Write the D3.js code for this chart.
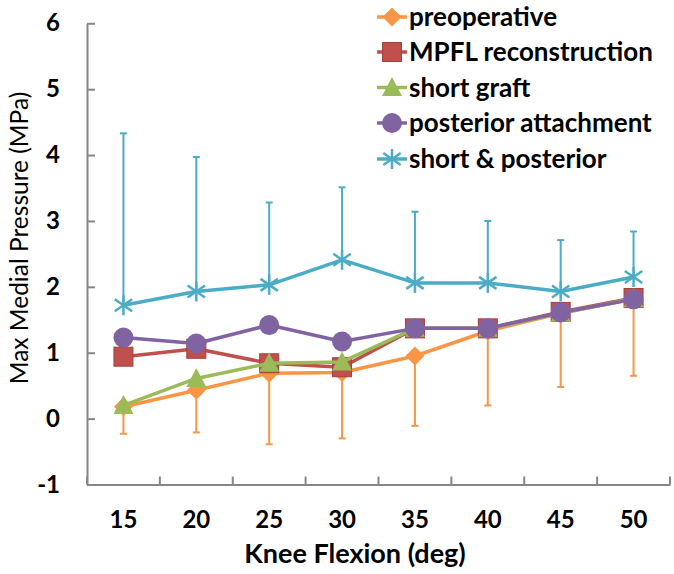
<!DOCTYPE html>
<html><head><meta charset="utf-8">
<script src="https://cdn.jsdelivr.net/npm/d3@7"></script>
<style>body{margin:0;background:#fff}svg{display:block}</style>
</head><body>
<svg id="c" width="674" height="574"></svg>
<script>
const categories = ["15","20","25","30","35","40","45","50"];
const yTickValues = [-1,0,1,2,3,4,5,6];
const yTickLabels = ["-1","0","1","2","3","4","5","6"];
const seriesNames = ["preoperative","MPFL reconstruction","short graft","posterior attachment","short & posterior"];
const preoperative = [0.18,0.43,0.69,0.70,0.95,1.33,1.60,1.82];
const preoperativeLow = [-0.23,-0.21,-0.39,-0.30,-0.11,0.20,0.48,0.65];
const mpfl = [0.94,1.06,0.84,0.78,1.37,1.37,1.62,1.83];
const shortGraft = [0.20,0.61,0.84,0.86,1.37,1.37,1.60,1.82];
const posterior = [1.23,1.14,1.42,1.17,1.37,1.37,1.61,1.81];
const shortPosterior = [1.72,1.93,2.03,2.41,2.06,2.06,1.93,2.15];
const shortPosteriorHigh = [4.33,3.97,3.28,3.51,3.14,3.00,2.71,2.84];
const colors = ["#F79646","#C0504D","#9BBB59","#8064A2","#4BACC6"];
const markers = ["diamond","square","triangle","circle","star"];

const series = [
  {name: seriesNames[0], values: preoperative, low: preoperativeLow},
  {name: seriesNames[1], values: mpfl},
  {name: seriesNames[2], values: shortGraft},
  {name: seriesNames[3], values: posterior},
  {name: seriesNames[4], values: shortPosterior, high: shortPosteriorHigh}
];

const svg = d3.select("#c");
const FONT = "Lato, 'Open Sans', sans-serif";
const x = d3.scaleBand().domain(categories).range([87, 670]).padding(0);
const y = d3.scaleLinear().domain([-1, 6]).range([484.5, 23.3]);
const axisColor = "#868686";

// Y axis
const yAxis = svg.append("g").attr("transform", "translate(87,0)")
  .call(d3.axisLeft(y).tickValues(yTickValues).tickSizeInner(-8).tickSizeOuter(0).tickPadding(27)
    .tickFormat((d, i) => yTickLabels[i]));
yAxis.select(".domain").attr("stroke", axisColor).attr("stroke-width", 2);
yAxis.selectAll(".tick line").attr("stroke", axisColor).attr("stroke-width", 2);
yAxis.selectAll(".tick text").attr("font-family", FONT).attr("font-weight", "bold")
  .attr("font-size", 24).attr("fill", "#000");

// X axis
const y0 = y(-1);
const xAxis = svg.append("g").attr("transform", `translate(0,${y0})`)
  .call(d3.axisBottom(x).tickSize(0).tickPadding(26));
xAxis.select(".domain").attr("stroke", axisColor).attr("stroke-width", 2);
xAxis.selectAll(".tick text").attr("font-family", FONT).attr("font-weight", "bold")
  .attr("font-size", 24).attr("fill", "#000");
const bounds = categories.map(c => x(c)).concat([x.range()[1]]);
xAxis.selectAll("line.bt").data(bounds).enter().append("line").attr("class", "bt")
  .attr("x1", d => d).attr("x2", d => d).attr("y1", 0).attr("y2", -8)
  .attr("stroke", axisColor).attr("stroke-width", 2);

// Axis titles
svg.append("text").attr("x", 355).attr("y", 563)
  .attr("text-anchor", "middle").attr("font-family", FONT).attr("font-weight", "bold")
  .attr("font-size", 27).text("Knee Flexion (deg)");
svg.append("text").attr("transform", "translate(28,238) rotate(-90)")
  .attr("text-anchor", "middle").attr("font-family", FONT)
  .attr("font-size", 24.5).text("Max Medial Pressure (MPa)");

function drawMarker(g, type, color, cx, cy) {
  if (type === "diamond") {
    g.append("path").attr("d", `M${cx},${cy-9.5}L${cx+9.5},${cy}L${cx},${cy+9.5}L${cx-9.5},${cy}Z`).attr("fill", color);
  } else if (type === "square") {
    g.append("rect").attr("x", cx-9.5).attr("y", cy-9.5).attr("width", 19).attr("height", 19)
      .attr("fill", color).attr("stroke", "#A33F3C").attr("stroke-width", 1);
  } else if (type === "triangle") {
    g.append("path").attr("d", `M${cx},${cy-10.5}L${cx+10},${cy+8.5}L${cx-10},${cy+8.5}Z`).attr("fill", color);
  } else if (type === "circle") {
    g.append("circle").attr("cx", cx).attr("cy", cy).attr("r", 10).attr("fill", color);
  } else if (type === "star") {
    const r = 10;
    const p = [[0,-r,0,r],[-r*0.87,-r*0.6,r*0.87,r*0.6],[-r*0.87,r*0.6,r*0.87,-r*0.6]];
    p.forEach(q => g.append("line").attr("x1", cx+q[0]).attr("y1", cy+q[1]).attr("x2", cx+q[2]).attr("y2", cy+q[3])
      .attr("stroke", color).attr("stroke-width", 2.5));
  }
}

const line = d3.line().x((d, i) => x(categories[i]) + x.bandwidth() / 2).y(d => y(d));
const plot = svg.append("g");
series.forEach((s, si) => {
  const g = plot.append("g");
  const col = colors[si];
  const cxs = categories.map(c => x(c) + x.bandwidth() / 2);
  const bars = s.low || s.high;
  if (bars) {
    s.values.forEach((v, i) => {
      g.append("line").attr("x1", cxs[i]).attr("x2", cxs[i]).attr("y1", y(v)).attr("y2", y(bars[i]))
        .attr("stroke", col).attr("stroke-width", 2);
      g.append("line").attr("x1", cxs[i]-3.5).attr("x2", cxs[i]+3.5).attr("y1", y(bars[i])).attr("y2", y(bars[i]))
        .attr("stroke", col).attr("stroke-width", 2);
    });
  }
  g.append("path").attr("d", line(s.values)).attr("fill", "none").attr("stroke", col)
    .attr("stroke-width", 3.5).attr("stroke-linejoin", "round");
  s.values.forEach((v, i) => drawMarker(g, markers[si], col, cxs[i], y(v)));
});

// Legend
const legend = svg.append("g");
const legendRows = [17, 52, 87.5, 123, 159];
series.forEach((s, si) => {
  const ly = legendRows[si];
  const g = legend.append("g");
  g.append("line").attr("x1", 377).attr("x2", 407).attr("y1", ly).attr("y2", ly)
    .attr("stroke", colors[si]).attr("stroke-width", 3.5);
  drawMarker(g, markers[si], colors[si], 392, ly);
  g.append("text").attr("x", 409).attr("y", ly).attr("dy", "0.36em")
    .attr("font-family", FONT).attr("font-weight", "bold").attr("font-size", 26)
    .attr("fill", "#000").text(s.name);
});
</script>
</body></html>
